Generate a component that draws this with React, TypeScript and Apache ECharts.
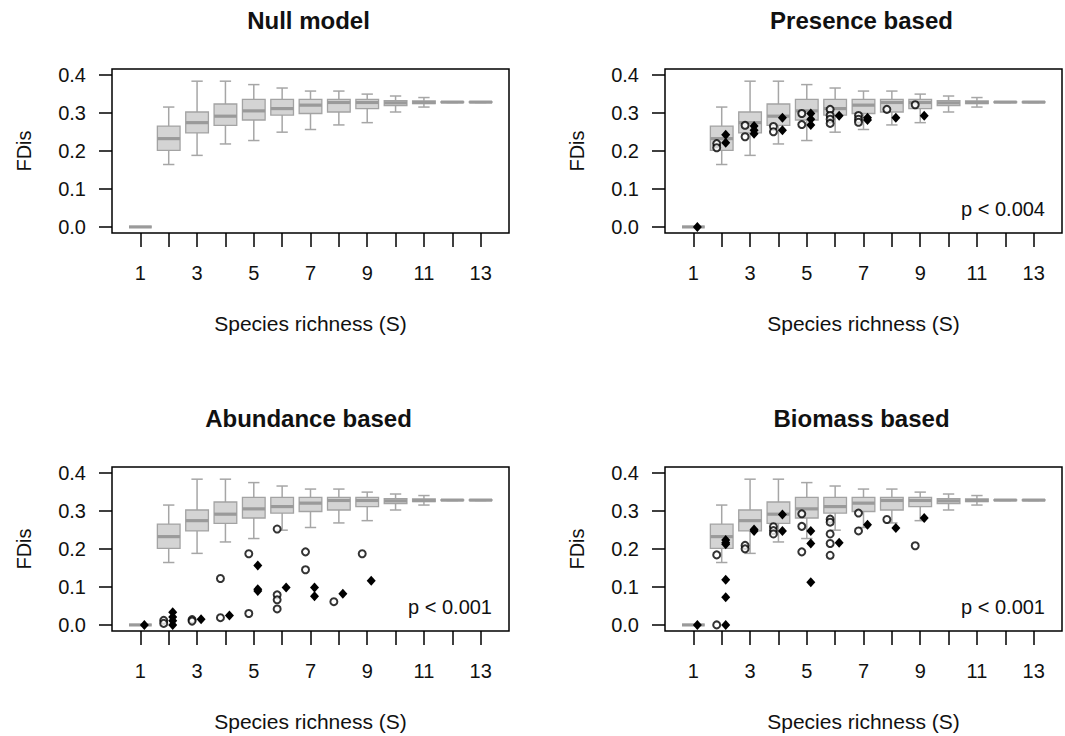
import React, { useEffect, useRef } from "react";
import * as echarts from "echarts";

// ---- data ----
const richness = [1, 2, 3, 4, 5, 6, 7, 8, 9, 10, 11, 12, 13];
const xLabelTicks = [1, 3, 5, 7, 9, 11, 13];
const yTicks = [0, 0.1, 0.2, 0.3, 0.4];

// null-model distribution per species richness
const boxMin = [0, 0.164, 0.188, 0.218, 0.227, 0.249, 0.256, 0.268, 0.274, 0.302, 0.315, 0.327, 0.327];
const boxQ1 = [0, 0.201, 0.247, 0.267, 0.281, 0.294, 0.298, 0.302, 0.311, 0.319, 0.324, 0.327, 0.327];
const boxMedian = [0, 0.232, 0.274, 0.291, 0.305, 0.311, 0.32, 0.327, 0.327, 0.326, 0.327, 0.328, 0.328];
const boxQ3 = [0, 0.265, 0.302, 0.323, 0.335, 0.335, 0.335, 0.335, 0.335, 0.332, 0.331, 0.329, 0.329];
const boxMax = [0, 0.315, 0.383, 0.383, 0.374, 0.365, 0.357, 0.357, 0.349, 0.344, 0.34, 0.329, 0.329];

// observed points: [species richness, FDis]
const presenceOpen = [
  [2, 0.219], [2, 0.208], [3, 0.267], [3, 0.237], [4, 0.264], [4, 0.25],
  [5, 0.298], [5, 0.269], [6, 0.309], [6, 0.293], [6, 0.283], [6, 0.272],
  [7, 0.293], [7, 0.283], [7, 0.275], [8, 0.309], [9, 0.321],
];
const presenceFilled = [
  [1, 0], [2, 0.242], [2, 0.221], [3, 0.265], [3, 0.254], [3, 0.245],
  [4, 0.287], [4, 0.254], [5, 0.298], [5, 0.283], [5, 0.268], [6, 0.292],
  [7, 0.287], [7, 0.281], [8, 0.287], [9, 0.292],
];
const abundanceOpen = [
  [2, 0.012], [2, 0.004], [3, 0.014], [3, 0.01], [4, 0.122], [4, 0.019],
  [5, 0.187], [5, 0.03], [6, 0.252], [6, 0.079], [6, 0.066], [6, 0.042],
  [7, 0.192], [7, 0.145], [8, 0.061], [9, 0.187],
];
const abundanceFilled = [
  [1, 0], [2, 0.033], [2, 0.021], [2, 0.011], [2, 0], [3, 0.015], [4, 0.025],
  [5, 0.156], [5, 0.094], [5, 0.089], [6, 0.098], [7, 0.098], [7, 0.075],
  [8, 0.082], [9, 0.116],
];
const biomassOpen = [
  [2, 0.184], [2, 0], [3, 0.209], [3, 0.2], [4, 0.258], [4, 0.248], [4, 0.239],
  [5, 0.292], [5, 0.259], [5, 0.192], [6, 0.278], [6, 0.27], [6, 0.239],
  [6, 0.214], [6, 0.183], [7, 0.294], [7, 0.247], [8, 0.277], [9, 0.208],
];
const biomassFilled = [
  [1, 0], [2, 0.223], [2, 0.216], [2, 0.212], [2, 0.119], [2, 0.073], [2, 0],
  [3, 0.251], [3, 0.247], [4, 0.29], [4, 0.247], [5, 0.247], [5, 0.214],
  [5, 0.112], [6, 0.216], [7, 0.263], [8, 0.255], [9, 0.281],
];

const panelTitles = ["Null model", "Presence based", "Abundance based", "Biomass based"];
const panelPValues = ["", "p < 0.004", "p < 0.001", "p < 0.001"];
const panelOpen = [[], presenceOpen, abundanceOpen, biomassOpen];
const panelFilled = [[], presenceFilled, abundanceFilled, biomassFilled];

// ---- layout / style ----
const FONT = "'Liberation Sans', Arial, Helvetica, sans-serif";
const TEXT = "#111";
const grids = [
  { left: 112, top: 69 },
  { left: 665, top: 69 },
  { left: 112, top: 467 },
  { left: 665, top: 467 },
];
const GW = 397;
const GH = 164;

function buildOption() {
  const boxData = richness.map((s, k) => [s, boxMin[k], boxQ1[k], boxMedian[k], boxQ3[k], boxMax[k]]);

  const renderBox = (params: any, api: any) => {
    const s = api.value(0);
    const pMin = api.coord([s, api.value(1)]);
    const pQ1 = api.coord([s, api.value(2)]);
    const pMed = api.coord([s, api.value(3)]);
    const pQ3 = api.coord([s, api.value(4)]);
    const pMax = api.coord([s, api.value(5)]);
    const half = api.size([0.8, 0])[0] / 2;
    const capHalf = api.size([0.4, 0])[0] / 2;
    const cx = pMed[0];
    const wStyle = { stroke: "#a6a6a6", lineWidth: 1.5 };
    return {
      type: "group",
      children: [
        { type: "line", shape: { x1: cx, y1: pMax[1], x2: cx, y2: pQ3[1] }, style: wStyle },
        { type: "line", shape: { x1: cx, y1: pQ1[1], x2: cx, y2: pMin[1] }, style: wStyle },
        { type: "line", shape: { x1: cx - capHalf, y1: pMax[1], x2: cx + capHalf, y2: pMax[1] }, style: wStyle },
        { type: "line", shape: { x1: cx - capHalf, y1: pMin[1], x2: cx + capHalf, y2: pMin[1] }, style: wStyle },
        {
          type: "rect",
          shape: { x: cx - half, y: pQ3[1], width: half * 2, height: pQ1[1] - pQ3[1] },
          style: { fill: "#d4d4d4", stroke: "#a3a3a3", lineWidth: 1.3 },
        },
        {
          type: "line",
          shape: { x1: cx - half, y1: pMed[1], x2: cx + half, y2: pMed[1] },
          style: { stroke: "#9a9a9a", lineWidth: 3.2 },
        },
      ],
    };
  };

  const option: any = {
    animation: false,
    backgroundColor: "#fff",
    title: [],
    grid: [],
    xAxis: [],
    yAxis: [],
    series: [],
    graphic: [],
  };

  grids.forEach((g, i) => {
    option.grid.push({
      left: g.left,
      top: g.top,
      width: GW,
      height: GH,
      show: true,
      borderColor: "#000",
      borderWidth: 1.5,
      backgroundColor: "transparent",
    });
    option.title.push({
      text: panelTitles[i],
      left: g.left + GW / 2 - 2,
      top: g.top - 61,
      textAlign: "center",
      padding: 0,
      textStyle: { fontSize: 24, fontWeight: "bold", color: TEXT, fontFamily: FONT },
    });
    option.xAxis.push({
      gridIndex: i,
      type: "value",
      min: 0,
      max: 14,
      interval: 1,
      axisLine: { show: false, onZero: false },
      axisTick: {
        show: true,
        length: 14,
        customValues: richness,
        lineStyle: { color: "#000", width: 1.5 },
      },
      axisLabel: {
        customValues: xLabelTicks,
        margin: 30,
        fontSize: 20,
        color: TEXT,
        fontFamily: FONT,
      },
      splitLine: { show: false },
      name: "Species richness (S)",
      nameLocation: "middle",
      nameGap: 80,
      nameTextStyle: { fontSize: 21, color: TEXT, fontFamily: FONT },
    });
    option.yAxis.push({
      gridIndex: i,
      type: "value",
      min: -0.016,
      max: 0.415,
      axisLine: { show: false },
      axisTick: {
        show: true,
        length: 13,
        customValues: yTicks,
        lineStyle: { color: "#000", width: 1.5 },
      },
      axisLabel: {
        customValues: yTicks,
        formatter: (v: number) => v.toFixed(1),
        margin: 26,
        fontSize: 20,
        color: TEXT,
        fontFamily: FONT,
      },
      splitLine: { show: false },
      name: "FDis",
      nameLocation: "middle",
      nameGap: 78,
      nameRotate: 90,
      nameTextStyle: { fontSize: 20, color: TEXT, fontFamily: FONT },
    });
    option.series.push({
      type: "custom",
      name: "Null model " + i,
      xAxisIndex: i,
      yAxisIndex: i,
      renderItem: renderBox,
      encode: { x: 0, y: [1, 2, 3, 4, 5] },
      data: boxData,
      z: 2,
    });
    if (panelOpen[i].length) {
      option.series.push({
        type: "scatter",
        name: "open " + i,
        xAxisIndex: i,
        yAxisIndex: i,
        data: panelOpen[i],
        symbol: "circle",
        symbolSize: 7,
        symbolOffset: [-5, 0],
        itemStyle: { color: "#fff", borderColor: "#000", borderWidth: 2 },
        z: 4,
      });
      option.series.push({
        type: "scatter",
        name: "filled " + i,
        xAxisIndex: i,
        yAxisIndex: i,
        data: panelFilled[i],
        symbol: "diamond",
        symbolSize: [9, 10],
        symbolOffset: [4, 0],
        itemStyle: { color: "#000", opacity: 1 },
        z: 5,
      });
    }
    if (panelPValues[i]) {
      option.graphic.push({
        type: "text",
        x: g.left + GW - 17,
        y: g.top + 140,
        style: {
          text: panelPValues[i],
          fontSize: 20,
          fill: TEXT,
          fontFamily: FONT,
          align: "right",
          verticalAlign: "middle",
        },
        z: 10,
      });
    }
  });

  return option;
}

export default function App() {
  const ref = useRef<HTMLDivElement>(null);
  useEffect(() => {
    if (!ref.current) return;
    const chart = echarts.init(ref.current, undefined, { renderer: "svg" });
    chart.setOption(buildOption());
    return () => chart.dispose();
  }, []);
  return (
    <div
      ref={ref}
      style={{ position: "absolute", left: 0, top: 0, width: 1065, height: 736, background: "#fff" }}
    />
  );
}
